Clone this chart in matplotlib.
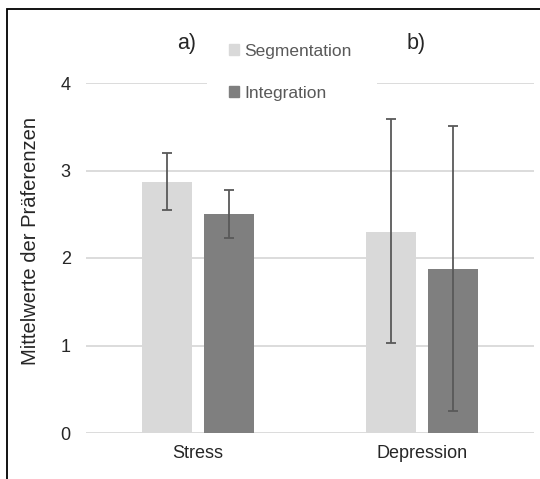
import matplotlib.pyplot as plt
import numpy as np
from matplotlib.patches import Rectangle, Patch

plt.rcParams['font.family'] = ['Liberation Sans', 'DejaVu Sans']

# Daten
categories = ['Stress', 'Depression']
segmentation = [2.87, 2.30]
integration = [2.50, 1.87]
seg_low = [2.55, 1.03]
seg_high = [3.20, 3.59]
int_low = [2.23, 0.25]
int_high = [2.78, 3.51]

W, H = 540, 479
fig = plt.figure(figsize=(W / 100, H / 100), dpi=100)
ax = fig.add_axes([86 / W, 1 - 433 / H, 448 / W, 350 / H])

x = np.arange(len(categories))
bw = 0.223
off = 0.14
seg_err = [np.array(segmentation) - np.array(seg_low), np.array(seg_high) - np.array(segmentation)]
int_err = [np.array(integration) - np.array(int_low), np.array(int_high) - np.array(integration)]

ax.bar(x - off, segmentation, bw, color='#d9d9d9', label='Segmentation', zorder=2)
ax.bar(x + off, integration, bw, color='#7f7f7f', label='Integration', zorder=2)
ax.errorbar(x - off, segmentation, yerr=seg_err, fmt='none', ecolor='#595959',
            elinewidth=1.3, capsize=3.3, capthick=1.3, zorder=3)
ax.errorbar(x + off, integration, yerr=int_err, fmt='none', ecolor='#595959',
            elinewidth=1.3, capsize=3.3, capthick=1.3, zorder=3)

ax.set_xlim(-0.5, 1.5)
ax.set_ylim(0, 4)
ax.set_yticks([0, 1, 2, 3, 4])
ax.set_xticks(x)
ax.set_xticklabels(categories)
ax.yaxis.grid(True, color='#d9d9d9', linewidth=1.3, zorder=0)
ax.set_axisbelow(True)
for s in ax.spines.values():
    s.set_visible(False)
ax.tick_params(axis='both', length=0, labelsize=13, colors='#262626')
ax.tick_params(axis='y', pad=11)
ax.tick_params(axis='x', pad=9)

fig.text(31 / W, 1 - 241 / H, 'Mittelwerte der Präferenzen', rotation=90,
         ha='center', va='center', fontsize=14.5, color='#262626')

# weisser Hintergrund der Legende ueber der Gitterlinie
ax.add_patch(Rectangle((207 / W, 1 - 104 / H), 170 / W, 44 / H, transform=fig.transFigure,
                       facecolor='white', edgecolor='none', zorder=1, clip_on=False))

# Legende
handles = [Patch(color='#d9d9d9'), Patch(color='#7f7f7f')]
leg = fig.legend(handles, ['Segmentation', 'Integration'], loc='upper left',
                 bbox_to_anchor=(229 / W, 1 - 44 / H), frameon=False, fontsize=12.5,
                 handlelength=0.6, handleheight=0.6, handletextpad=0.3,
                 labelspacing=1.55, borderpad=0, borderaxespad=0, labelcolor='#595959')

fig.text(187 / W, 1 - 43 / H, 'a)', ha='center', va='center', fontsize=15.5, color='#262626')
fig.text(416 / W, 1 - 43 / H, 'b)', ha='center', va='center', fontsize=15.5, color='#262626')

# Rahmen
fig.patches.append(Rectangle((7 / W, -0.1), 1.2, 1 - 9 / H + 0.1, transform=fig.transFigure,
                             fill=False, edgecolor='black', linewidth=1.3))

fig.savefig('out.png', dpi=100)
